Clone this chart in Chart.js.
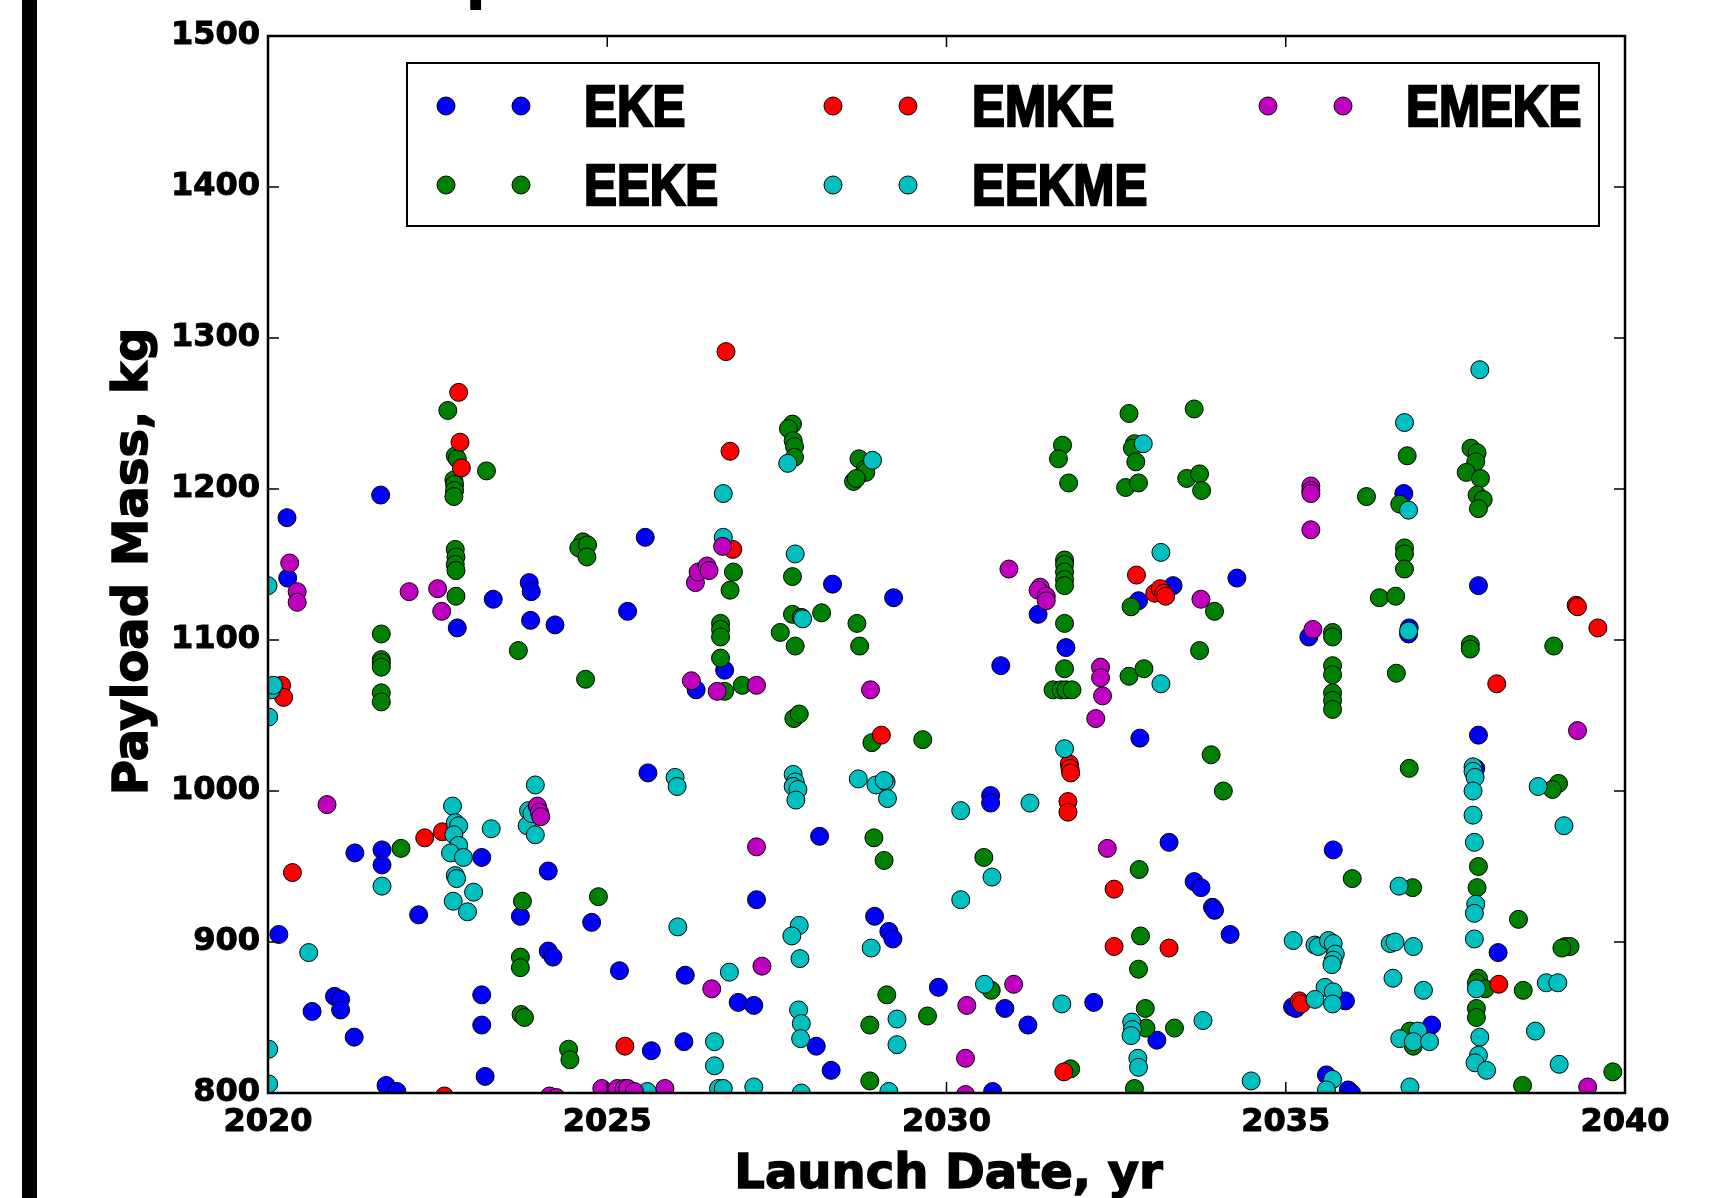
<!DOCTYPE html>
<html>
<head>
<meta charset="utf-8">
<script src="https://cdn.jsdelivr.net/npm/chart.js@4.4.0/dist/chart.umd.min.js"></script>
<style>
  html,body{margin:0;padding:0;background:#fff;}
  canvas{display:block;}
</style>
</head>
<body>
<canvas id="chart" width="1730" height="1198"></canvas>
<script>
// series labels and colours (legend order, row by row)
const seriesNames = ["EKE","EMKE","EMEKE","EEKE","EEKME"];
const seriesColors = ["#0000ff","#ff0000","#bf00bf","#008000","#00bfbf"];
const xTicks = [2020,2025,2030,2035,2040];
const yTicks = [800,900,1000,1100,1200,1300,1400,1500];

// [launch year, payload mass kg]
const ekePts = [
  [2020.16,905],[2020.28,1181],[2020.29,1141],[2020.65,854],[2020.98,864],[2021.07,862],[2021.07,855],
  [2021.27,837],[2021.28,959],[2021.66,1196],[2021.68,961],[2021.68,951],[2021.74,805],[2021.9,801],
  [2022.22,918],[2022.79,1108],[2023.15,956],[2023.15,865],[2023.15,845],[2023.2,811],[2023.32,1127],
  [2023.72,917],[2023.85,1138],[2023.88,1132],[2023.87,1113],[2024.13,947],[2024.13,894],[2024.2,890],
  [2024.23,1110],[2024.77,913],[2025.18,881],[2025.3,1119],[2025.56,1168],[2025.6,1012],[2025.65,828],
  [2026.15,878],[2026.13,834],[2026.31,1067],[2026.73,1080],[2026.93,860],[2027.16,858],[2027.2,928],
  [2028.08,831],[2028.13,970],[2028.3,815],[2028.32,1137],[2028.94,917],[2029.15,907],[2029.21,902],
  [2029.22,1128],[2029.88,870],[2030.65,997],[2030.65,992],[2030.68,801],[2030.8,1083],[2030.86,856],
  [2031.2,845],[2031.35,1117],[2031.76,1095],[2032.17,860],[2032.83,1126],[2032.85,1035],[2033.1,835],
  [2033.28,966],[2033.34,1136],[2033.65,940],[2033.75,936],[2033.92,923],[2033.95,921],[2034.18,905],
  [2034.28,1141],[2035.1,857],[2035.15,856],[2035.34,1102],[2035.6,812],[2035.7,961],[2035.88,861],
  [2035.92,802],[2035.97,800],[2036.74,1197],[2036.82,1108],[2036.81,1104],[2037.15,845],[2037.84,1037],
  [2037.84,1136],[2037.8,1015],[2038.13,893]
];
const emkePts = [
  [2020.2,1070],[2020.23,1062],[2020.36,946],[2022.31,969],[2022.57,973],[2022.6,798],[2022.81,1264],
  [2022.83,1231],[2022.85,1214],[2025.26,831],[2026.75,1291],[2026.81,1225],[2026.85,1160],[2029.04,1037],
  [2031.73,814],[2031.79,993],[2031.79,986],[2031.81,1018],[2031.82,1015],[2031.83,1012],[2032.47,935],
  [2032.47,897],[2032.8,1143],[2033.07,1131],[2033.15,1134],[2033.2,1131],[2033.23,1129],[2033.28,896],
  [2035.2,861],[2035.23,859],[2038.11,1071],[2038.14,872],[2039.28,1123],[2039.3,1122],[2039.6,1108]
];
const emekePts = [
  [2020.32,1151],[2020.43,1132],[2020.43,1125],[2020.87,991],[2022.08,1132],[2022.5,1134],[2022.56,1119],
  [2023.97,990],[2024.0,986],[2024.02,983],[2024.15,798],[2024.25,797],[2024.92,803],[2025.15,803],
  [2025.25,803],[2025.3,803],[2025.4,801],[2025.85,803],[2026.24,1073],[2026.3,1138],[2026.34,1145],
  [2026.47,1149],[2026.5,1146],[2026.54,869],[2026.62,1066],[2026.7,1162],[2027.2,1070],[2027.2,963],
  [2027.28,884],[2028.88,1067],[2030.3,858],[2030.28,823],[2030.28,799],[2030.99,872],[2030.92,1147],
  [2031.38,1135],[2031.35,1133],[2031.47,1129],[2031.47,1126],[2032.2,1048],[2032.27,1082],[2032.27,1075],
  [2032.3,1063],[2032.37,962],[2033.75,1127],[2035.37,1202],[2035.37,1199],[2035.37,1197],[2035.37,1173],
  [2035.4,1107],[2039.3,1040],[2039.45,804]
];
const eekePts = [
  [2021.67,1104],[2021.67,1087],[2021.67,1085],[2021.67,1082],[2021.67,1065],[2021.67,1059],[2021.96,962],
  [2022.65,1252],[2022.76,1222],[2022.79,1220],[2022.74,1206],[2022.75,1203],[2022.75,1199],[2022.74,1195],
  [2022.76,1160],[2022.77,1155],[2022.76,1150],[2022.77,1146],[2022.77,1129],[2023.22,1212],[2023.69,1093],
  [2023.75,927],[2023.72,890],[2023.72,883],[2023.73,852],[2023.78,850],[2024.64,1165],[2024.58,1161],
  [2024.71,1163],[2024.7,1155],[2024.68,1074],[2024.87,930],[2024.43,829],[2024.45,822],
  [2026.67,1111],[2026.67,1107],[2026.67,1102],[2026.67,1088],[2026.86,1145],[2026.81,1133],[2026.99,1070],
  [2026.73,1066],[2027.73,1243],[2027.67,1240],[2027.74,1232],[2027.76,1228],[2027.76,1221],[2027.73,1142],
  [2027.73,1117],[2027.86,1115],[2028.16,1118],[2027.55,1105],[2027.77,1096],[2027.75,1048],[2027.83,1051],
  [2028.71,1220],[2028.8,1213],[2028.63,1205],[2028.81,1211],[2028.67,1207],[2028.68,1111],[2028.72,1096],
  [2028.9,1032],[2029.65,1034],[2028.93,969],[2029.08,954],[2029.12,865],[2028.87,845],[2029.72,851],
  [2028.87,808],[2030.55,956],[2030.66,868],[2031.71,1229],[2031.65,1220],[2031.8,1204],[2031.74,1153],
  [2031.74,1150],[2031.74,1145],[2031.74,1140],[2031.74,1136],[2031.74,1111],[2031.74,1081],[2031.57,1067],
  [2031.69,1067],[2031.76,1067],[2031.85,1067],[2031.83,816],[2032.69,1250],[2032.77,1230],[2032.74,1227],
  [2032.79,1218],[2032.64,1201],[2032.83,1204],[2032.72,1122],[2032.69,1076],[2032.91,1081],[2032.84,948],
  [2032.86,904],[2032.83,882],[2032.93,856],[2032.94,843],[2033.36,843],[2032.77,803],[2033.65,1253],
  [2033.54,1207],[2033.73,1210],[2033.76,1199],[2033.73,1093],[2033.95,1119],[2033.9,1024],[2034.08,1000],
  [2035.69,1105],[2035.69,1102],[2035.69,1083],[2035.69,1077],[2035.69,1065],[2035.69,1060],[2035.69,1054],
  [2035.98,942],[2036.19,1195],[2036.38,1128],[2036.62,1129],[2036.63,1078],[2036.68,1190],[2036.79,1222],
  [2036.75,1161],[2036.75,1157],[2036.75,1147],[2036.82,1015],[2036.87,936],[2036.83,841],[2036.88,831],
  [2037.73,1227],[2037.82,1224],[2037.8,1218],[2037.66,1211],[2037.87,1207],[2037.82,1196],[2037.91,1193],
  [2037.84,1187],[2037.72,1097],[2037.72,1094],[2037.84,950],[2037.82,936],[2037.84,876],[2037.81,873],
  [2037.94,869],[2037.81,856],[2037.81,850],[2038.43,915],[2038.5,868],[2038.49,805],[2038.95,1096],
  [2039.02,1005],[2038.93,1001],[2039.12,897],[2039.19,897],[2039.07,896],[2039.82,814]
];
const eekmePts = [
  [2020.0,1136],[2020.01,1049],[2020.05,1067],[2020.08,1070],[2020.01,829],[2020.01,806],[2020.6,893],
  [2021.68,937],[2022.72,990],[2022.76,979],[2022.81,977],[2022.74,971],[2022.81,964],[2022.69,959],
  [2022.88,956],[2022.76,944],[2022.78,942],[2023.03,933],[2022.73,927],[2022.94,920],[2023.29,975],
  [2023.94,1004],[2023.84,987],[2023.82,977],[2023.94,971],[2023.89,985],[2026.0,1009],[2026.03,1003],
  [2026.04,910],[2025.59,801],[2026.58,834],[2026.58,818],[2026.64,803],[2026.71,1197],[2026.71,1168],
  [2026.8,880],[2026.71,803],[2027.16,804],[2027.66,1217],[2027.77,1157],[2027.88,1114],[2027.74,1011],
  [2027.77,1006],[2027.74,1003],[2027.81,1001],[2027.78,994],[2027.83,911],[2027.72,904],[2027.84,889],
  [2027.82,855],[2027.86,846],[2027.85,836],[2027.86,800],[2028.91,1219],[2028.7,1008],[2028.96,1004],
  [2029.11,1006],[2029.13,995],[2029.08,1007],[2028.89,896],[2029.27,849],[2029.27,832],[2029.15,801],
  [2030.21,987],[2030.21,928],[2030.67,943],[2030.56,872],[2031.23,992],[2031.7,859],[2031.74,1028],
  [2032.9,1230],[2033.16,1158],[2033.16,1071],[2032.73,847],[2032.74,842],[2032.72,838],[2032.82,823],
  [2032.83,817],[2033.78,848],[2034.49,808],[2035.11,901],[2035.43,898],[2035.48,897],[2035.63,901],
  [2035.7,899],[2035.73,892],[2035.7,888],[2035.68,885],[2035.58,870],[2035.7,867],[2035.43,862],
  [2035.69,859],[2035.69,809],[2035.6,802],[2036.75,1244],[2036.81,1186],[2036.81,1106],[2036.54,899],
  [2036.61,900],[2036.88,897],[2036.58,876],[2036.67,937],[2037.03,868],[2036.68,836],[2036.95,841],
  [2036.88,834],[2037.12,834],[2036.83,804],[2037.86,1279],[2037.76,1016],[2037.76,1013],[2037.79,1009],
  [2037.76,1000],[2037.76,984],[2037.78,966],[2037.8,925],[2037.78,919],[2037.78,902],[2037.81,869],
  [2037.86,837],[2037.84,825],[2037.79,820],[2037.96,815],[2038.72,1003],[2039.1,977],[2038.84,873],
  [2039.01,873],[2038.68,841],[2039.03,819]
];
const seriesPts = [ekePts, emkePts, emekePts, eekePts, eekmePts];
// plotted order in the original: EKE, EEKE, EMKE, EEKME, EMEKE (last on top)
const drawOrder = [5, 3, 1, 4, 2];

const tickFont = {family:"DejaVu Sans", weight:"bold", size:32};

const decor = {
  id: "decor",
  beforeDraw(c){
    const ctx = c.ctx;
    ctx.save();
    ctx.fillStyle = "#fff";
    ctx.fillRect(0,0,c.width,c.height);
    ctx.fillStyle = "#000";
    ctx.fillRect(22,0,15,c.height);
    // title sits above the canvas, only a descender shows
    ctx.font = "bold 62px 'DejaVu Sans'";
    ctx.textBaseline = "alphabetic";
    ctx.textAlign = "left";
    let w = ctx.measureText("Com").width;
    ctx.fillText("Comparison", 470 - w - 5, -3);
    ctx.restore();
  },
  afterDatasetsDraw(c){
    const ctx = c.ctx, a = c.chartArea;
    const xs = c.scales.x, ys = c.scales.y;
    ctx.save();
    ctx.strokeStyle = "#000";
    ctx.lineWidth = 1.5;
    ctx.beginPath();
    xTicks.forEach(v=>{
      let p = xs.getPixelForValue(v);
      ctx.moveTo(p,a.bottom); ctx.lineTo(p,a.bottom-11);
      ctx.moveTo(p,a.top); ctx.lineTo(p,a.top+11);
    });
    yTicks.forEach(v=>{
      let p = ys.getPixelForValue(v);
      ctx.moveTo(a.left,p); ctx.lineTo(a.left+11,p);
      ctx.moveTo(a.right,p); ctx.lineTo(a.right-11,p);
    });
    ctx.stroke();
    ctx.lineWidth = 2.5;
    ctx.strokeRect(a.left,a.top,a.right-a.left,a.bottom-a.top);

    // legend: two markers per entry, three columns
    ctx.fillStyle = "#fff";
    ctx.fillRect(407,63,1192,163);
    ctx.lineWidth = 2;
    ctx.strokeRect(407,63,1192,163);
    const cols = [[446,521,583],[833,908,971],[1268,1343,1405]];
    const rows = [106,185];
    const slots = [[0,0],[0,1],[0,2],[1,0],[1,1]];
    ctx.font = "bold 58px 'Liberation Sans'";
    ctx.textBaseline = "alphabetic";
    seriesNames.forEach((name,i)=>{
      let [r,k] = slots[i];
      let cy = rows[r];
      [cols[k][0],cols[k][1]].forEach(cx=>{
        ctx.beginPath();
        ctx.arc(cx,cy,9,0,Math.PI*2);
        ctx.fillStyle = seriesColors[i];
        ctx.fill();
        ctx.lineWidth = 1;
        ctx.strokeStyle = "#000";
        ctx.stroke();
      });
      ctx.save();
      ctx.translate(cols[k][2]+1, cy+20);
      ctx.scale(0.85,1);
      ctx.fillStyle = "#000";
      ctx.strokeStyle = "#000";
      ctx.lineWidth = 2.5;
      ctx.lineJoin = "miter";
      ctx.fillText(name,0,0);
      ctx.strokeText(name,0,0);
      ctx.restore();
    });

    // axis titles
    ctx.fillStyle = "#000";
    ctx.strokeStyle = "#000";
    ctx.lineWidth = 1.5;
    ctx.font = "bold 48px 'DejaVu Sans'";
    ctx.textAlign = "center";
    ctx.textBaseline = "alphabetic";
    ctx.fillText("Launch Date, yr", (a.left+a.right)/2 + 2, 1188);
    ctx.strokeText("Launch Date, yr", (a.left+a.right)/2 + 2, 1188);
    ctx.save();
    ctx.translate(147,(a.top+a.bottom)/2 - 3);
    ctx.rotate(-Math.PI/2);
    ctx.fillText("Payload Mass, kg",0,0);
    ctx.strokeText("Payload Mass, kg",0,0);
    ctx.restore();
    ctx.restore();
  }
};

chart = new Chart(document.getElementById("chart"), {
  type: "scatter",
  data: {
    datasets: seriesNames.map((n,i)=>({
      label: n,
      data: seriesPts[i].map(p=>({x:p[0], y:p[1]})),
      backgroundColor: seriesColors[i],
      borderColor: "#000",
      borderWidth: 1,
      pointRadius: 9,
      pointHoverRadius: 9,
      order: drawOrder[i],
      clip: 0
    }))
  },
  options: {
    responsive: false,
    animation: false,
    devicePixelRatio: 1,
    layout: {padding: {top:36, right:105, left:0, bottom:0}},
    plugins: {legend:{display:false}, tooltip:{enabled:false}},
    scales: {
      x: {
        type: "linear", min: 2020, max: 2040,
        afterFit(s){ s.height = 105; },
        afterBuildTicks(s){ s.ticks = xTicks.map(v=>({value:v})); },
        grid: {display:false, drawTicks:false},
        border: {display:false},
        ticks: {font:tickFont, color:"#000", textStrokeColor:"#000", textStrokeWidth:1, padding:10, autoSkip:false, maxRotation:0, callback:v=>String(v)}
      },
      y: {
        type: "linear", min: 800, max: 1500,
        afterFit(s){ s.width = 268; },
        afterBuildTicks(s){ s.ticks = yTicks.map(v=>({value:v})); },
        grid: {display:false, drawTicks:false},
        border: {display:false},
        ticks: {font:tickFont, color:"#000", textStrokeColor:"#000", textStrokeWidth:1, padding:8, autoSkip:false, callback:v=>String(v)}
      }
    }
  },
  plugins: [decor]
});
</script>
</body>
</html>
